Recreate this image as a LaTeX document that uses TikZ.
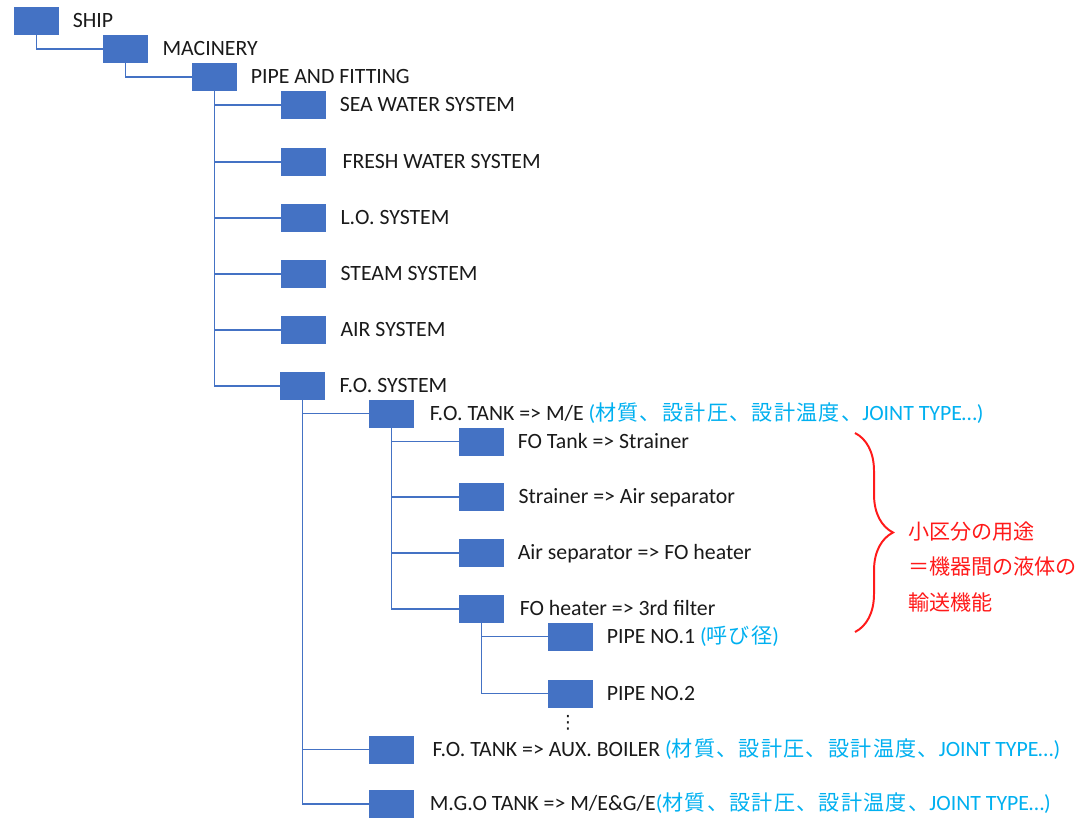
\documentclass[tikz,border=0pt]{standalone}
\usepackage{fontspec}
\setmainfont{Carlito}
\newfontfamily\jp[LetterSpace=6]{Noto Sans CJK JP}
\newfontfamily\jpred{Noto Sans CJK JP}
\newfontfamily\sym{DejaVu Sans}
\usetikzlibrary{positioning,decorations.pathreplacing}
\definecolor{Box}{HTML}{4472C4}
\definecolor{Note}{HTML}{00B0F0}
\definecolor{Mark}{HTML}{FF1A1A}
\definecolor{Text}{HTML}{1A1A1A}

\begin{document}
\begin{tikzpicture}[x=0.025cm,y=-0.025cm,font=\fontsize{15.5}{18}\selectfont,text=Text,item/.style={fill=Box,minimum width=1.125cm,minimum height=0.7cm,inner sep=0pt},lbl/.style={inner sep=0pt,text height=9.8pt,text depth=0pt},link/.style={draw=Box,line width=1.4pt},bracket/.style={draw=Mark,line width=1.4pt,decorate,decoration={brace,amplitude=0.95cm,aspect=0.5}}]
\useasboundingbox[fill=white] (0,0) rectangle (1091,817);
% boxes
\node[item] (ship) at (36.5,21){};
\node[item] (mach) at (125.5,49){};
\node[item] (pipe) at (214.5,77){};
\node[item] (sea) at (303.5,105){};
\node[item] (fresh) at (303.5,162){};
\node[item] (lo) at (303.5,218){};
\node[item] (steam) at (303.5,274){};
\node[item] (air) at (303.5,330){};
\node[item] (fosys) at (302.5,386){};
\node[item] (fotank) at (391.5,413.5){};
\node[item] (tankStr) at (481.5,441.5){};
\node[item] (strAir) at (481.5,497){};
\node[item] (airHeat) at (481.5,553){};
\node[item] (heatFilt) at (481.5,609){};
\node[item] (pipeA) at (570.5,636.5){};
\node[item] (pipeB) at (570.5,693.5){};
\node[item] (aux) at (391.5,749.5){};
\node[item] (mgo) at (391.5,804){};
% texts
\node[lbl,right=0.33cm of ship] (shipT){SHIP};
\node[lbl,right=0.35cm of mach] (machT){MACINERY};
\node[lbl,right=0.33cm of pipe] (pipeT){PIPE AND FITTING};
\node[lbl,right=0.33cm of sea] (seaT){SEA WATER SYSTEM};
\node[lbl,right=0.4cm of fresh] (freshT){FRESH WATER SYSTEM};
\node[lbl,right=0.35cm of lo] (loT){L.O. SYSTEM};
\node[lbl,right=0.35cm of steam] (steamT){STEAM SYSTEM};
\node[lbl,right=0.35cm of air] (airT){AIR SYSTEM};
\node[lbl,right=0.35cm of fosys] (fosysT){F.O. SYSTEM};
\node[lbl,right=0.38cm of fotank] (fotankT){F.O. TANK => M/E {\color{Note}({\jp\fontsize{15}{18}\selectfont 材質、設計圧、設計温度、}JOINT TYPE…)}};
\node[lbl,right=0.33cm of tankStr] (tankStrT){FO Tank => Strainer};
\node[lbl,right=0.35cm of strAir] (strAirT){Strainer => Air separator};
\node[lbl,right=0.33cm of airHeat] (airHeatT){Air separator => FO heater};
\node[lbl,right=0.38cm of heatFilt] (heatFiltT){FO heater => 3rd filter};
\node[lbl,right=0.33cm of pipeA] (pipeAT){PIPE NO.1 {\color{Note}({\jp\fontsize{15}{18}\selectfont 呼び径})}};
\node[lbl,right=0.33cm of pipeB] (pipeBT){PIPE NO.2};
\node[lbl,right=0.45cm of aux] (auxT){F.O. TANK => AUX. BOILER {\color{Note}({\jp\fontsize{15}{18}\selectfont 材質、設計圧、設計温度、}JOINT TYPE…)}};
\node[lbl,right=0.38cm of mgo] (mgoT){M.G.O TANK => M/E\&G/E{\color{Note}({\jp\fontsize{15}{18}\selectfont 材質、設計圧、設計温度、}JOINT TYPE…)}};
\node[font=\sym\fontsize{13}{15}\selectfont] (more) at (568,723){⋮};
% connectors
\draw[link] (ship.south) |- (mach.west);
\draw[link] (mach.south) |- (pipe.west);
\draw[link] (pipe.south) |- (sea.west);
\draw[link] (pipe.south) |- (fresh.west);
\draw[link] (pipe.south) |- (lo.west);
\draw[link] (pipe.south) |- (steam.west);
\draw[link] (pipe.south) |- (air.west);
\draw[link] (pipe.south) |- (fosys.west);
\draw[link] (fosys.south) |- (fotank.west);
\draw[link] (fosys.south) |- (aux.west);
\draw[link] (fosys.south) |- (mgo.west);
\draw[link] (fotank.south) |- (tankStr.west);
\draw[link] (fotank.south) |- (strAir.west);
\draw[link] (fotank.south) |- (airHeat.west);
\draw[link] (fotank.south) |- (heatFilt.west);
\draw[link] (heatFilt.south) |- (pipeA.west);
\draw[link] (heatFilt.south) |- (pipeB.west);
% brace and note
\coordinate (braceTop) at (855,433);
\coordinate (braceBot) at (855,632);
\draw[bracket] (braceTop) -- (braceBot);
\node[anchor=west,align=left,inner sep=0pt,text=Mark,font=\jpred\fontsize{15}{25}\selectfont] (use) at (908,567){小区分の用途\\＝機器間の液体の\\輸送機能};
\end{tikzpicture}
\end{document}
